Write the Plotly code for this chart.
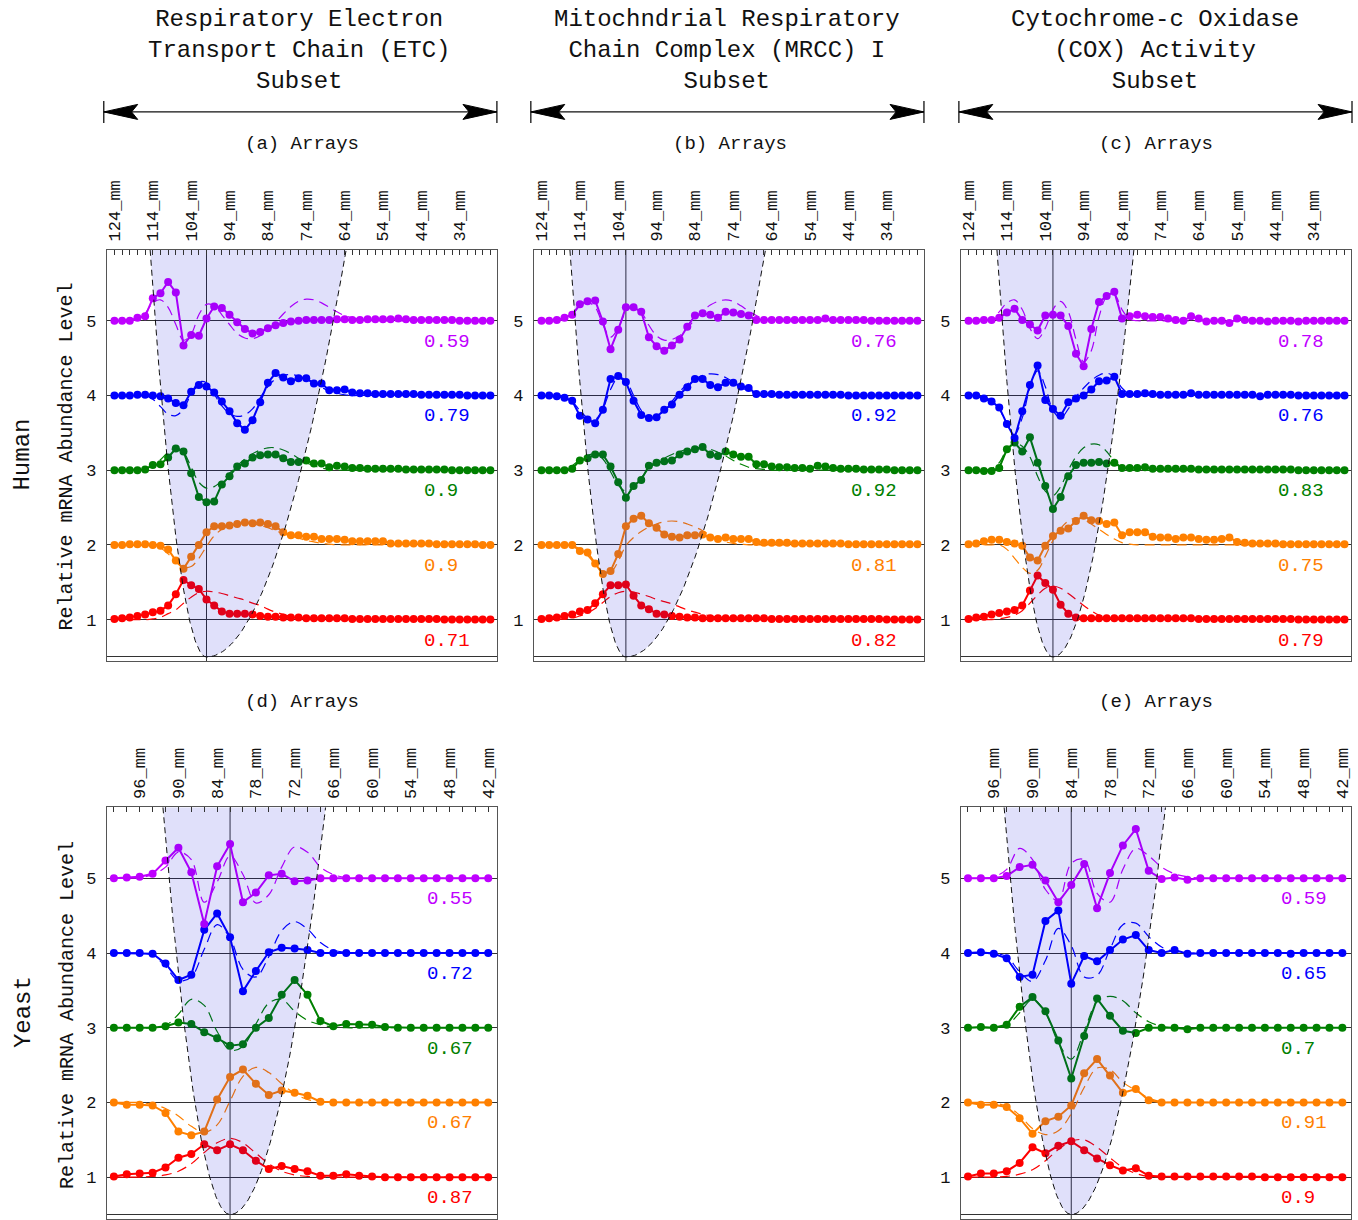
import numpy as np
import plotly.graph_objects as go

W, H = 1358, 1220
FONT = "Liberation Mono"

# ---------------- grids / ticks ----------------
HUMAN_MM = list(range(124, 24, -2))      # 50 arrays, 2 mm apart
YEAST_MM = list(range(100, 40, -2))      # 30 arrays, 2 mm apart
HUMAN_TICKS = [124, 114, 104, 94, 84, 74, 64, 54, 44, 34]
YEAST_TICKS = [96, 90, 84, 78, 72, 66, 60, 54, 48, 42]
SERIES = ["purple", "blue", "green", "orange", "red"]
COLORS = ["#BF00FF", "#0000FF", "#008000", "#FF8000", "#FF0000"]
BASELINES = [5, 4, 3, 2, 1]

# ---------------- panel (a) ----------------
A_PURPLE = [5.00, 5.00, 5.00, 5.04, 5.06, 5.30, 5.37, 5.52, 5.38, 4.67,
            4.81, 4.80, 5.03, 5.19, 5.17, 5.08, 4.98, 4.89, 4.83, 4.85,
            4.90, 4.94, 4.97, 4.99, 5.00, 5.01, 5.01, 5.01, 5.01, 5.02,
            5.02, 5.01, 5.01, 5.02, 5.02, 5.02, 5.02, 5.03, 5.02, 5.01,
            5.01, 5.01, 5.01, 5.01, 5.01, 5.00, 5.00, 5.00, 5.00, 5.00]
A_PURPLE_FIT = [5.00, 5.00, 5.00, 5.02, 5.10, 5.24, 5.28, 5.18, 4.95, 4.74,
                4.82, 5.08, 5.22, 5.20, 5.08, 4.95, 4.83, 4.77, 4.76, 4.80,
                4.88, 4.98, 5.09, 5.19, 5.26, 5.29, 5.28, 5.24, 5.18, 5.12,
                5.07, 5.04, 5.02, 5.01, 5.00, 5.00, 5.00, 5.00, 5.00, 5.00,
                5.00, 5.00, 5.00, 5.00, 5.00, 5.00, 5.00, 5.00, 5.00, 5.00]
A_BLUE = [4.00, 4.00, 4.00, 4.01, 4.01, 4.00, 3.99, 3.96, 3.90, 3.87,
          4.05, 4.14, 4.12, 4.04, 3.92, 3.79, 3.63, 3.54, 3.67, 3.91,
          4.17, 4.30, 4.24, 4.19, 4.23, 4.23, 4.16, 4.16, 4.07, 4.07,
          4.08, 4.04, 4.03, 4.03, 4.02, 4.02, 4.02, 4.02, 4.02, 4.02,
          4.01, 4.01, 4.01, 4.01, 4.01, 4.01, 4.00, 4.00, 4.00, 4.00]
A_BLUE_FIT = [4.00, 4.00, 4.00, 4.00, 4.00, 3.95, 3.85, 3.75, 3.73, 3.82,
              4.02, 4.18, 4.17, 4.02, 3.86, 3.76, 3.72, 3.74, 3.82, 3.97,
              4.12, 4.22, 4.27, 4.28, 4.26, 4.22, 4.17, 4.11, 4.06, 4.03,
              4.01, 4.00, 4.00, 4.00, 4.00, 4.00, 4.00, 4.00, 4.00, 4.00,
              4.00, 4.00, 4.00, 4.00, 4.00, 4.00, 4.00, 4.00, 4.00, 4.00]
A_GREEN = [3.00, 3.00, 3.00, 3.00, 3.01, 3.07, 3.08, 3.17, 3.29, 3.25,
           2.96, 2.64, 2.57, 2.58, 2.81, 2.92, 3.05, 3.09, 3.17, 3.20,
           3.21, 3.21, 3.16, 3.11, 3.11, 3.13, 3.09, 3.09, 3.04, 3.06,
           3.05, 3.03, 3.03, 3.02, 3.02, 3.02, 3.02, 3.02, 3.01, 3.01,
           3.01, 3.01, 3.01, 3.01, 3.00, 3.00, 3.00, 3.00, 3.00, 3.00]
A_GREEN_FIT = [3.00, 3.00, 3.00, 3.00, 3.02, 3.06, 3.14, 3.24, 3.30, 3.24,
               3.04, 2.84, 2.76, 2.78, 2.86, 2.96, 3.06, 3.15, 3.22, 3.27,
               3.30, 3.30, 3.27, 3.22, 3.16, 3.10, 3.06, 3.03, 3.01, 3.00,
               3.00, 3.00, 3.00, 3.00, 3.00, 3.00, 3.00, 3.00, 3.00, 3.00,
               3.00, 3.00, 3.00, 3.00, 3.00, 3.00, 3.00, 3.00, 3.00, 3.00]
A_ORANGE = [2.00, 2.00, 2.01, 2.01, 2.01, 2.00, 1.99, 1.94, 1.79, 1.68,
            1.84, 2.00, 2.17, 2.25, 2.25, 2.26, 2.28, 2.30, 2.29, 2.30,
            2.28, 2.25, 2.17, 2.13, 2.13, 2.11, 2.11, 2.08, 2.08, 2.08,
            2.07, 2.05, 2.05, 2.05, 2.05, 2.05, 2.02, 2.02, 2.02, 2.02,
            2.02, 2.02, 2.01, 2.01, 2.01, 2.01, 2.01, 2.01, 2.00, 2.00]
A_ORANGE_FIT = [2.00, 2.00, 2.00, 2.00, 2.00, 1.99, 1.96, 1.88, 1.77, 1.70,
                1.71, 1.82, 1.98, 2.12, 2.21, 2.26, 2.28, 2.29, 2.28, 2.26,
                2.23, 2.19, 2.15, 2.12, 2.09, 2.06, 2.04, 2.02, 2.01, 2.00,
                2.00, 2.00, 2.00, 2.00, 2.00, 2.00, 2.00, 2.00, 2.00, 2.00,
                2.00, 2.00, 2.00, 2.00, 2.00, 2.00, 2.00, 2.00, 2.00, 2.00]
A_RED = [1.01, 1.02, 1.03, 1.05, 1.07, 1.10, 1.12, 1.19, 1.34, 1.53,
         1.46, 1.41, 1.27, 1.19, 1.11, 1.08, 1.08, 1.08, 1.07, 1.05,
         1.04, 1.04, 1.03, 1.03, 1.03, 1.02, 1.02, 1.02, 1.02, 1.02,
         1.02, 1.01, 1.01, 1.01, 1.01, 1.01, 1.01, 1.01, 1.01, 1.01,
         1.01, 1.01, 1.01, 1.00, 1.00, 1.00, 1.00, 1.00, 1.00, 1.00]
A_RED_FIT = [1.00, 1.00, 1.00, 1.00, 1.00, 1.01, 1.03, 1.08, 1.13, 1.22,
             1.30, 1.36, 1.38, 1.37, 1.35, 1.32, 1.29, 1.26, 1.22, 1.19,
             1.14, 1.10, 1.07, 1.04, 1.02, 1.01, 1.00, 1.00, 1.00, 1.00,
             1.00, 1.00, 1.00, 1.00, 1.00, 1.00, 1.00, 1.00, 1.00, 1.00,
             1.00, 1.00, 1.00, 1.00, 1.00, 1.00, 1.00, 1.00, 1.00, 1.00]
A_CORR = ["0.59", "0.79", "0.9", "0.9", "0.71"]

# ---------------- panel (b) ----------------
B_PURPLE = [5.00, 5.00, 5.01, 5.04, 5.08, 5.22, 5.26, 5.27, 4.99, 4.62,
            4.88, 5.18, 5.18, 5.12, 4.78, 4.66, 4.60, 4.67, 4.75, 4.92,
            5.07, 5.10, 5.08, 5.04, 5.12, 5.11, 5.09, 5.07, 5.01, 5.01,
            5.01, 5.01, 5.01, 5.01, 5.01, 5.01, 5.01, 5.03, 5.01, 5.01,
            5.01, 5.01, 5.01, 5.00, 5.00, 5.00, 5.00, 5.00, 5.00, 5.00]
B_PURPLE_FIT = [5.00, 5.00, 5.00, 5.02, 5.08, 5.20, 5.25, 5.18, 4.95, 4.78,
                4.90, 5.12, 5.20, 5.12, 4.94, 4.80, 4.74, 4.75, 4.80, 4.90,
                5.02, 5.13, 5.21, 5.26, 5.28, 5.26, 5.20, 5.13, 5.07, 5.03,
                5.01, 5.00, 5.00, 5.00, 5.00, 5.00, 5.00, 5.00, 5.00, 5.00,
                5.00, 5.00, 5.00, 5.00, 5.00, 5.00, 5.00, 5.00, 5.00, 5.00]
B_BLUE = [4.00, 4.00, 3.99, 3.97, 3.93, 3.73, 3.68, 3.63, 3.81, 4.22,
          4.26, 4.18, 3.93, 3.74, 3.70, 3.71, 3.81, 3.88, 4.01, 4.11,
          4.22, 4.22, 4.14, 4.11, 4.17, 4.17, 4.12, 4.10, 4.02, 4.02,
          4.02, 4.01, 4.01, 4.01, 4.01, 4.01, 4.01, 4.01, 4.01, 4.01,
          4.00, 4.00, 4.00, 4.00, 4.00, 4.00, 4.00, 4.00, 4.00, 4.00]
B_BLUE_FIT = [4.00, 4.00, 4.00, 3.98, 3.92, 3.80, 3.70, 3.68, 3.82, 4.08,
              4.24, 4.20, 4.00, 3.80, 3.71, 3.72, 3.80, 3.92, 4.05, 4.15,
              4.22, 4.27, 4.29, 4.28, 4.24, 4.18, 4.11, 4.06, 4.02, 4.01,
              4.00, 4.00, 4.00, 4.00, 4.00, 4.00, 4.00, 4.00, 4.00, 4.00,
              4.00, 4.00, 4.00, 4.00, 4.00, 4.00, 4.00, 4.00, 4.00, 4.00]
B_GREEN = [3.00, 3.00, 3.00, 3.00, 3.02, 3.13, 3.16, 3.21, 3.21, 3.05,
           2.84, 2.63, 2.79, 2.87, 3.06, 3.10, 3.12, 3.13, 3.21, 3.25,
           3.28, 3.31, 3.21, 3.19, 3.25, 3.21, 3.18, 3.18, 3.08, 3.08,
           3.05, 3.04, 3.04, 3.03, 3.03, 3.02, 3.06, 3.05, 3.03, 3.02,
           3.02, 3.02, 3.01, 3.01, 3.01, 3.01, 3.00, 3.00, 3.00, 3.00]
B_GREEN_FIT = [3.00, 3.00, 3.00, 3.01, 3.06, 3.14, 3.20, 3.22, 3.15, 2.98,
               2.80, 2.72, 2.78, 2.90, 3.02, 3.10, 3.16, 3.21, 3.25, 3.28,
               3.30, 3.30, 3.28, 3.24, 3.19, 3.13, 3.08, 3.04, 3.02, 3.01,
               3.00, 3.00, 3.00, 3.00, 3.00, 3.00, 3.00, 3.00, 3.00, 3.00,
               3.00, 3.00, 3.00, 3.00, 3.00, 3.00, 3.00, 3.00, 3.00, 3.00]
B_ORANGE = [2.00, 2.00, 2.00, 2.00, 2.00, 1.92, 1.90, 1.75, 1.61, 1.65,
            1.88, 2.25, 2.35, 2.39, 2.29, 2.23, 2.14, 2.11, 2.10, 2.13,
            2.13, 2.14, 2.10, 2.08, 2.10, 2.08, 2.08, 2.08, 2.04, 2.03,
            2.03, 2.03, 2.03, 2.02, 2.02, 2.02, 2.02, 2.02, 2.02, 2.02,
            2.01, 2.01, 2.01, 2.01, 2.01, 2.01, 2.01, 2.01, 2.01, 2.01]
B_ORANGE_FIT = [2.00, 2.00, 2.00, 2.00, 1.99, 1.95, 1.86, 1.74, 1.64, 1.63,
                1.78, 1.99, 2.10, 2.18, 2.24, 2.28, 2.31, 2.32, 2.31, 2.28,
                2.24, 2.19, 2.13, 2.08, 2.04, 2.02, 2.01, 2.00, 2.00, 2.00,
                2.00, 2.00, 2.00, 2.00, 2.00, 2.00, 2.00, 2.00, 2.00, 2.00,
                2.00, 2.00, 2.00, 2.00, 2.00, 2.00, 2.00, 2.00, 2.00, 2.00]
B_RED = [1.01, 1.02, 1.03, 1.05, 1.07, 1.11, 1.13, 1.22, 1.34, 1.46,
         1.46, 1.47, 1.32, 1.19, 1.14, 1.08, 1.07, 1.05, 1.04, 1.03,
         1.03, 1.02, 1.02, 1.02, 1.02, 1.02, 1.02, 1.02, 1.02, 1.02,
         1.01, 1.01, 1.01, 1.01, 1.01, 1.01, 1.01, 1.01, 1.01, 1.01,
         1.01, 1.01, 1.01, 1.01, 1.01, 1.00, 1.00, 1.00, 1.00, 1.00]
B_RED_FIT = [1.00, 1.00, 1.00, 1.01, 1.02, 1.05, 1.09, 1.15, 1.23, 1.31,
             1.36, 1.38, 1.37, 1.34, 1.31, 1.27, 1.24, 1.21, 1.17, 1.13,
             1.10, 1.07, 1.05, 1.03, 1.01, 1.00, 1.00, 1.00, 1.00, 1.00,
             1.00, 1.00, 1.00, 1.00, 1.00, 1.00, 1.00, 1.00, 1.00, 1.00,
             1.00, 1.00, 1.00, 1.00, 1.00, 1.00, 1.00, 1.00, 1.00, 1.00]
B_CORR = ["0.76", "0.92", "0.92", "0.81", "0.82"]

# ---------------- panel (c) ----------------
C_PURPLE = [5.00, 5.00, 5.01, 5.01, 5.04, 5.11, 5.16, 5.01, 4.95, 4.87,
            5.07, 5.08, 5.07, 4.93, 4.56, 4.39, 4.89, 5.25, 5.33, 5.39,
            5.03, 5.06, 5.08, 5.06, 5.05, 5.05, 5.03, 5.01, 5.00, 5.06,
            5.03, 4.99, 5.00, 5.00, 4.97, 5.03, 5.01, 5.00, 5.00, 4.99,
            5.00, 5.00, 5.00, 4.99, 5.00, 5.00, 5.00, 5.00, 5.00, 5.00]
C_PURPLE_FIT = [5.00, 5.00, 5.00, 5.03, 5.12, 5.24, 5.28, 5.15, 4.90, 4.76,
                4.90, 5.15, 5.26, 5.12, 4.75, 4.45, 4.60, 5.05, 5.32, 5.35,
                5.15, 5.02, 5.00, 5.00, 5.00, 5.00, 5.00, 5.00, 5.00, 5.00,
                5.00, 5.00, 5.00, 5.00, 5.00, 5.00, 5.00, 5.00, 5.00, 5.00,
                5.00, 5.00, 5.00, 5.00, 5.00, 5.00, 5.00, 5.00, 5.00, 5.00]
C_BLUE = [4.00, 4.00, 3.96, 3.92, 3.84, 3.62, 3.43, 3.79, 4.14, 4.40,
          3.94, 3.82, 3.73, 3.91, 3.96, 4.00, 4.08, 4.19, 4.20, 4.25,
          4.02, 4.02, 4.02, 4.03, 4.02, 4.01, 4.01, 4.01, 4.01, 4.03,
          4.01, 4.01, 4.01, 4.01, 4.01, 4.01, 4.01, 4.01, 3.99, 4.01,
          4.01, 4.01, 4.01, 4.00, 4.00, 4.00, 4.00, 4.00, 4.00, 4.00]
C_BLUE_FIT = [4.00, 4.00, 3.98, 3.93, 3.82, 3.62, 3.48, 3.70, 4.10, 4.33,
              4.12, 3.80, 3.70, 3.82, 3.98, 4.10, 4.20, 4.27, 4.30, 4.25,
              4.10, 4.02, 4.00, 4.00, 4.00, 4.00, 4.00, 4.00, 4.00, 4.00,
              4.00, 4.00, 4.00, 4.00, 4.00, 4.00, 4.00, 4.00, 4.00, 4.00,
              4.00, 4.00, 4.00, 4.00, 4.00, 4.00, 4.00, 4.00, 4.00, 4.00]
C_GREEN = [3.00, 3.00, 2.99, 2.99, 3.03, 3.28, 3.37, 3.25, 3.44, 3.10,
           2.79, 2.48, 2.64, 2.92, 3.07, 3.10, 3.10, 3.11, 3.09, 3.10,
           3.03, 3.03, 3.03, 3.04, 3.02, 3.02, 3.02, 3.02, 3.02, 3.02,
           3.01, 3.01, 3.01, 3.01, 3.01, 3.01, 3.01, 3.01, 3.01, 3.01,
           3.01, 3.01, 3.01, 3.00, 3.00, 3.00, 3.00, 3.00, 3.00, 3.00]
C_GREEN_FIT = [3.00, 3.00, 3.00, 3.02, 3.10, 3.28, 3.36, 3.32, 3.18, 2.92,
               2.72, 2.66, 2.78, 3.00, 3.18, 3.30, 3.35, 3.34, 3.25, 3.12,
               3.04, 3.01, 3.00, 3.00, 3.00, 3.00, 3.00, 3.00, 3.00, 3.00,
               3.00, 3.00, 3.00, 3.00, 3.00, 3.00, 3.00, 3.00, 3.00, 3.00,
               3.00, 3.00, 3.00, 3.00, 3.00, 3.00, 3.00, 3.00, 3.00, 3.00]
C_ORANGE = [2.01, 2.02, 2.05, 2.07, 2.07, 2.04, 2.02, 1.99, 1.83, 1.79,
            1.99, 2.12, 2.19, 2.22, 2.32, 2.39, 2.33, 2.32, 2.28, 2.30,
            2.13, 2.17, 2.17, 2.17, 2.11, 2.10, 2.10, 2.08, 2.10, 2.10,
            2.08, 2.07, 2.07, 2.08, 2.10, 2.04, 2.03, 2.02, 2.02, 2.02,
            2.02, 2.01, 2.01, 2.01, 2.01, 2.01, 2.01, 2.01, 2.01, 2.01]
C_ORANGE_FIT = [2.00, 2.00, 2.00, 2.00, 2.00, 1.94, 1.82, 1.70, 1.62, 1.66,
                1.85, 2.06, 2.22, 2.32, 2.36, 2.34, 2.28, 2.21, 2.14, 2.08,
                2.03, 2.01, 2.00, 2.00, 2.00, 2.00, 2.00, 2.00, 2.00, 2.00,
                2.00, 2.00, 2.00, 2.00, 2.00, 2.00, 2.00, 2.00, 2.00, 2.00,
                2.00, 2.00, 2.00, 2.00, 2.00, 2.00, 2.00, 2.00, 2.00, 2.00]
C_RED = [1.01, 1.03, 1.04, 1.07, 1.09, 1.11, 1.13, 1.19, 1.39, 1.59,
         1.49, 1.40, 1.20, 1.08, 1.03, 1.02, 1.02, 1.02, 1.02, 1.02,
         1.02, 1.02, 1.02, 1.02, 1.02, 1.02, 1.02, 1.02, 1.02, 1.02,
         1.01, 1.01, 1.01, 1.01, 1.01, 1.01, 1.01, 1.01, 1.01, 1.01,
         1.01, 1.01, 1.01, 1.00, 1.00, 1.00, 1.00, 1.00, 1.00, 1.00]
C_RED_FIT = [1.00, 1.00, 1.00, 1.00, 1.01, 1.03, 1.06, 1.12, 1.22, 1.33,
             1.42, 1.45, 1.42, 1.35, 1.27, 1.19, 1.12, 1.06, 1.03, 1.01,
             1.00, 1.00, 1.00, 1.00, 1.00, 1.00, 1.00, 1.00, 1.00, 1.00,
             1.00, 1.00, 1.00, 1.00, 1.00, 1.00, 1.00, 1.00, 1.00, 1.00,
             1.00, 1.00, 1.00, 1.00, 1.00, 1.00, 1.00, 1.00, 1.00, 1.00]
C_CORR = ["0.78", "0.76", "0.83", "0.75", "0.79"]

# ---------------- panel (d) ----------------
D_PURPLE = [5.00, 5.01, 5.02, 5.06, 5.24, 5.41, 5.08, 4.39, 5.16, 5.46,
            4.68, 4.81, 5.04, 5.06, 4.96, 4.97, 5.00, 5.00, 5.00, 5.00,
            5.00, 5.00, 5.00, 5.00, 5.00, 5.00, 5.00, 5.00, 5.00, 5.00]
D_PURPLE_FIT = [5.00, 5.00, 5.01, 5.05, 5.15, 5.35, 5.25, 4.68, 4.95, 5.30,
                5.05, 4.67, 4.78, 5.15, 5.42, 5.35, 5.15, 5.05, 5.01, 5.00,
                5.00, 5.00, 5.00, 5.00, 5.00, 5.00, 5.00, 5.00, 5.00, 5.00]
D_BLUE = [4.00, 4.00, 4.00, 3.99, 3.86, 3.64, 3.71, 4.31, 4.53, 4.21,
          3.49, 3.76, 4.01, 4.07, 4.06, 4.04, 4.00, 4.00, 4.00, 4.00,
          4.00, 4.00, 4.00, 4.00, 4.00, 4.00, 4.00, 4.00, 4.00, 4.00]
D_BLUE_FIT = [4.00, 4.00, 4.00, 3.97, 3.82, 3.63, 3.68, 4.05, 4.38, 4.20,
              3.78, 3.68, 3.95, 4.30, 4.42, 4.32, 4.14, 4.04, 4.01, 4.00,
              4.00, 4.00, 4.00, 4.00, 4.00, 4.00, 4.00, 4.00, 4.00, 4.00]
D_GREEN = [3.00, 3.00, 3.00, 3.00, 3.02, 3.07, 3.05, 2.94, 2.86, 2.76,
           2.78, 3.00, 3.13, 3.44, 3.64, 3.44, 3.09, 3.02, 3.05, 3.04,
           3.04, 3.01, 3.00, 3.00, 3.00, 3.00, 3.00, 3.00, 3.00, 3.00]
D_GREEN_FIT = [3.00, 3.00, 3.00, 3.00, 3.03, 3.18, 3.38, 3.30, 2.95, 2.70,
               2.75, 3.05, 3.33, 3.38, 3.22, 3.10, 3.04, 3.01, 3.00, 3.00,
               3.00, 3.00, 3.00, 3.00, 3.00, 3.00, 3.00, 3.00, 3.00, 3.00]
D_ORANGE = [2.00, 1.97, 1.97, 1.96, 1.86, 1.61, 1.56, 1.61, 2.04, 2.34,
            2.44, 2.25, 2.10, 2.16, 2.13, 2.09, 2.01, 2.00, 2.00, 2.00,
            2.00, 2.00, 2.00, 2.00, 2.00, 2.00, 2.00, 2.00, 2.00, 2.00]
D_ORANGE_FIT = [2.00, 2.00, 2.00, 1.97, 1.92, 1.82, 1.68, 1.60, 1.70, 2.02,
                2.35, 2.47, 2.40, 2.25, 2.12, 2.04, 2.01, 2.00, 2.00, 2.00,
                2.00, 2.00, 2.00, 2.00, 2.00, 2.00, 2.00, 2.00, 2.00, 2.00]
D_RED = [1.01, 1.04, 1.05, 1.06, 1.13, 1.26, 1.31, 1.44, 1.36, 1.44,
         1.36, 1.22, 1.11, 1.15, 1.11, 1.08, 1.02, 1.02, 1.04, 1.02,
         1.01, 1.00, 1.00, 1.00, 1.00, 1.00, 1.00, 1.00, 1.00, 1.00]
D_RED_FIT = [1.00, 1.00, 1.00, 1.01, 1.03, 1.08, 1.18, 1.33, 1.46, 1.52,
             1.46, 1.32, 1.18, 1.08, 1.03, 1.01, 1.00, 1.00, 1.00, 1.00,
             1.00, 1.00, 1.00, 1.00, 1.00, 1.00, 1.00, 1.00, 1.00, 1.00]
D_CORR = ["0.55", "0.72", "0.67", "0.67", "0.87"]

# ---------------- panel (e) ----------------
E_PURPLE = [5.00, 5.00, 5.00, 5.03, 5.15, 5.18, 4.97, 4.68, 4.91, 5.19,
            4.60, 5.07, 5.44, 5.66, 5.10, 4.99, 5.01, 4.98, 5.00, 5.00,
            5.00, 5.00, 5.00, 5.00, 5.00, 5.00, 5.00, 5.00, 5.00, 5.00]
E_PURPLE_FIT = [5.00, 5.00, 5.02, 5.12, 5.40, 5.25, 4.85, 4.70, 5.20, 5.25,
                4.80, 4.68, 5.12, 5.40, 5.30, 5.15, 5.06, 5.02, 5.00, 5.00,
                5.00, 5.00, 5.00, 5.00, 5.00, 5.00, 5.00, 5.00, 5.00, 5.00]
E_BLUE = [4.00, 4.01, 3.99, 3.93, 3.68, 3.71, 4.43, 4.57, 3.59, 3.96,
          3.89, 4.04, 4.18, 4.24, 4.04, 4.00, 4.04, 3.99, 4.00, 4.00,
          4.00, 4.00, 4.00, 4.00, 4.00, 3.99, 4.00, 4.00, 4.00, 4.00]
E_BLUE_FIT = [4.00, 4.00, 4.00, 3.95, 3.75, 3.62, 3.90, 4.33, 4.10, 3.68,
              3.70, 4.05, 4.38, 4.40, 4.22, 4.08, 4.02, 4.00, 4.00, 4.00,
              4.00, 4.00, 4.00, 4.00, 4.00, 4.00, 4.00, 4.00, 4.00, 4.00]
E_GREEN = [3.00, 3.01, 3.00, 3.04, 3.28, 3.41, 3.22, 2.83, 2.32, 2.89,
           3.39, 3.16, 2.96, 2.93, 3.00, 3.00, 3.00, 2.98, 3.00, 3.00,
           3.00, 3.00, 3.00, 3.00, 3.00, 3.00, 3.00, 3.00, 3.00, 3.00]
E_GREEN_FIT = [3.00, 3.00, 3.00, 3.03, 3.20, 3.38, 3.20, 2.80, 2.58, 2.95,
               3.35, 3.42, 3.36, 3.20, 3.08, 3.02, 3.00, 3.00, 3.00, 3.00,
               3.00, 3.00, 3.00, 3.00, 3.00, 3.00, 3.00, 3.00, 3.00, 3.00]
E_ORANGE = [2.00, 1.97, 1.97, 1.94, 1.79, 1.58, 1.75, 1.81, 1.96, 2.39,
            2.58, 2.36, 2.13, 2.18, 2.03, 2.00, 2.00, 2.00, 2.00, 2.00,
            2.00, 2.00, 2.00, 2.00, 2.00, 2.00, 2.00, 2.00, 2.00, 2.00]
E_ORANGE_FIT = [2.00, 2.00, 1.99, 1.95, 1.83, 1.65, 1.57, 1.62, 1.85, 2.20,
                2.46, 2.44, 2.27, 2.16, 2.06, 2.01, 2.00, 2.00, 2.00, 2.00,
                2.00, 2.00, 2.00, 2.00, 2.00, 2.00, 2.00, 2.00, 2.00, 2.00]
E_RED = [1.01, 1.05, 1.05, 1.08, 1.19, 1.40, 1.32, 1.42, 1.48, 1.36,
         1.25, 1.16, 1.09, 1.12, 1.02, 1.01, 1.01, 1.01, 1.01, 1.01,
         1.01, 1.01, 1.01, 1.00, 1.00, 1.00, 1.00, 1.00, 1.00, 1.00]
E_RED_FIT = [1.00, 1.00, 1.00, 1.01, 1.04, 1.10, 1.22, 1.37, 1.48, 1.50,
             1.40, 1.26, 1.13, 1.05, 1.01, 1.00, 1.00, 1.00, 1.00, 1.00,
             1.00, 1.00, 1.00, 1.00, 1.00, 1.00, 1.00, 1.00, 1.00, 1.00]
E_CORR = ["0.59", "0.65", "0.7", "0.91", "0.9"]

# ---------------- shaded window (parabola) parameters ----------------
VERTEX_MM = [100, 102, 102, 82, 84]
HALF_LEFT_MM = [14.7, 14.6, 14.6, 10.4, 10.4]
HALF_RIGHT_MM = [36.4, 36.4, 21.1, 14.8, 14.6]
Y_RANGE = [0.44, 5.95]
VERTEX_Y = 0.5

# ---------------- layout of panels (pixels) ----------------
PANEL_BOX = [(106, 250, 497, 662), (534, 250, 925, 662), (962, 250, 1353, 662),
             (106, 808, 497, 1220), (962, 808, 1353, 1220)]
X_RANGES = [[126.0, 24.3], [126.0, 24.3], [126.0, 24.3], [101.1, 40.66], [101.1, 40.66]]
CORR_X = [43.8, 43.8, 43.8, 51.8, 51.8]

PANELS = [
    (HUMAN_MM, HUMAN_TICKS, [A_PURPLE, A_BLUE, A_GREEN, A_ORANGE, A_RED],
     [A_PURPLE_FIT, A_BLUE_FIT, A_GREEN_FIT, A_ORANGE_FIT, A_RED_FIT], A_CORR),
    (HUMAN_MM, HUMAN_TICKS, [B_PURPLE, B_BLUE, B_GREEN, B_ORANGE, B_RED],
     [B_PURPLE_FIT, B_BLUE_FIT, B_GREEN_FIT, B_ORANGE_FIT, B_RED_FIT], B_CORR),
    (HUMAN_MM, HUMAN_TICKS, [C_PURPLE, C_BLUE, C_GREEN, C_ORANGE, C_RED],
     [C_PURPLE_FIT, C_BLUE_FIT, C_GREEN_FIT, C_ORANGE_FIT, C_RED_FIT], C_CORR),
    (YEAST_MM, YEAST_TICKS, [D_PURPLE, D_BLUE, D_GREEN, D_ORANGE, D_RED],
     [D_PURPLE_FIT, D_BLUE_FIT, D_GREEN_FIT, D_ORANGE_FIT, D_RED_FIT], D_CORR),
    (YEAST_MM, YEAST_TICKS, [E_PURPLE, E_BLUE, E_GREEN, E_ORANGE, E_RED],
     [E_PURPLE_FIT, E_BLUE_FIT, E_GREEN_FIT, E_ORANGE_FIT, E_RED_FIT], E_CORR),
]

for mm, _, ds, fs, _ in PANELS:
    for arr in ds + fs:
        assert len(arr) == len(mm), (len(arr), len(mm))


def px(x):
    return x / W


def py(y):
    return 1 - y / H


fig = go.Figure()
annotations = []
shapes = []
layout = {}

for k, (mm, ticks, datas, fits, corr) in enumerate(PANELS):
    n = k + 1
    xr = "x" if n == 1 else f"x{n}"
    yr = "y" if n == 1 else f"y{n}"
    xkey = "xaxis" if n == 1 else f"xaxis{n}"
    ykey = "yaxis" if n == 1 else f"yaxis{n}"
    x0, y0, x1, y1 = PANEL_BOX[k]

    layout[xkey] = dict(
        domain=[px(x0), px(x1)], range=X_RANGES[k], anchor=yr, side="top",
        tickmode="array", tickvals=mm,
        ticktext=[f"{v}_mm" if v in ticks else "" for v in mm],
        tickangle=-90, ticks="inside", ticklen=5, tickwidth=1, tickcolor="#333",
        tickfont=dict(family=FONT, size=17, color="#111"), ticklabelstandoff=4,
        showline=True, linecolor="#555", linewidth=1, mirror=True,
        showgrid=False, zeroline=False, fixedrange=True,
    )
    layout[ykey] = dict(
        domain=[py(y1), py(y0)], range=Y_RANGE, anchor=xr,
        tickmode="array", tickvals=[VERTEX_Y, 1, 2, 3, 4, 5],
        ticktext=["", "1", "2", "3", "4", "5"],
        ticks="", tickfont=dict(family=FONT, size=17, color="#111"),
        ticklabelstandoff=6,
        showgrid=True, gridcolor="#333", gridwidth=1,
        showline=True, linecolor="#555", linewidth=1, mirror=True,
        zeroline=False, fixedrange=True,
    )

    # vertical line at the window centre
    shapes.append(dict(type="line", xref=xr, yref=f"{yr} domain",
                       x0=VERTEX_MM[k], x1=VERTEX_MM[k], y0=0, y1=1,
                       line=dict(color="#333", width=1), layer="below"))

    # fits and data, red first so purple ends on top
    for s in range(4, -1, -1):
        fig.add_trace(go.Scatter(
            x=mm, y=fits[s], xaxis=xr, yaxis=yr, mode="lines",
            line=dict(color=COLORS[s], width=1.2, dash="10px,6px", shape="spline"),
            showlegend=False, hoverinfo="skip"))
        fig.add_trace(go.Scatter(
            x=mm, y=datas[s], xaxis=xr, yaxis=yr, mode="lines+markers",
            line=dict(color=COLORS[s], width=2),
            marker=dict(color=COLORS[s], size=8),
            showlegend=False, hoverinfo="skip"))
        annotations.append(dict(
            xref=xr, yref=yr, x=CORR_X[k], y=BASELINES[s] - 0.28,
            text=corr[s], showarrow=False, xanchor="left", yanchor="middle",
            font=dict(family=FONT, size=19, color=COLORS[s])))

    # translucent parabolic window drawn over the data
    t = np.linspace(0, 1, 80)
    yy = VERTEX_Y + (Y_RANGE[1] - VERTEX_Y) * t ** 2
    xl = VERTEX_MM[k] + HALF_LEFT_MM[k] * t
    xrr = VERTEX_MM[k] - HALF_RIGHT_MM[k] * t
    px_poly = np.concatenate([xl[::-1], xrr])
    py_poly = np.concatenate([yy[::-1], yy])
    fig.add_trace(go.Scatter(
        x=px_poly, y=py_poly, xaxis=xr, yaxis=yr, mode="lines", fill="toself",
        fillcolor="rgba(0,0,210,0.12)", line=dict(width=0),
        showlegend=False, hoverinfo="skip"))
    fig.add_trace(go.Scatter(
        x=px_poly, y=py_poly, xaxis=xr, yaxis=yr, mode="lines",
        line=dict(color="#111", width=1, dash="6px,4px"),
        showlegend=False, hoverinfo="skip"))

# ---------------- headers ----------------
HEADERS = ["Respiratory Electron<br>Transport Chain (ETC)<br>Subset",
           "Mitochndrial Respiratory<br>Chain Complex (MRCC) I<br>Subset",
           "Cytochrome-c Oxidase<br>(COX) Activity<br>Subset"]
HEADER_X = [299, 728, 1157]
ARROW_SPANS = [(103, 497), (531, 925), (960, 1354)]
for hx, text in zip(HEADER_X, HEADERS):
    annotations.append(dict(xref="paper", yref="paper", x=px(hx), y=py(51),
                            text=text, showarrow=False, xanchor="center",
                            yanchor="middle",
                            font=dict(family=FONT, size=24, color="#111")))

AY = 112
for ax0, ax1 in ARROW_SPANS:
    shapes.append(dict(type="line", xref="paper", yref="paper",
                       x0=px(ax0), x1=px(ax1), y0=py(AY), y1=py(AY),
                       line=dict(color="#111", width=1.3)))
    for xe in (ax0, ax1):
        shapes.append(dict(type="line", xref="paper", yref="paper",
                           x0=px(xe), x1=px(xe), y0=py(AY - 11), y1=py(AY + 11),
                           line=dict(color="#111", width=1.3)))
    L, h = 34, 7.5
    for tip, sgn in ((ax0, 1), (ax1, -1)):
        path = (f"M {px(tip)},{py(AY)} L {px(tip + sgn * L)},{py(AY - h)} "
                f"L {px(tip + sgn * L * 0.82)},{py(AY)} "
                f"L {px(tip + sgn * L)},{py(AY + h)} Z")
        shapes.append(dict(type="path", xref="paper", yref="paper", path=path,
                           fillcolor="#000", line=dict(color="#000", width=1)))

SUBTITLES = [("(a) Arrays", 302, 144), ("(b) Arrays", 731, 144),
             ("(c) Arrays", 1158, 144), ("(d) Arrays", 302, 703),
             ("(e) Arrays", 1158, 703)]
for text, sx, sy in SUBTITLES:
    annotations.append(dict(xref="paper", yref="paper", x=px(sx), y=py(sy),
                            text=text, showarrow=False, xanchor="center",
                            yanchor="middle",
                            font=dict(family=FONT, size=19, color="#111")))

for text, ry in (("Human", 455), ("Yeast", 1013)):
    annotations.append(dict(xref="paper", yref="paper", x=px(22), y=py(ry),
                            text=text, showarrow=False, textangle=-90,
                            xanchor="center", yanchor="middle",
                            font=dict(family=FONT, size=24, color="#111")))
for ry in (457, 1016):
    annotations.append(dict(xref="paper", yref="paper", x=px(66), y=py(ry),
                            text="Relative mRNA Abundance Level", showarrow=False,
                            textangle=-90, xanchor="center", yanchor="middle",
                            font=dict(family=FONT, size=20, color="#111")))

fig.update_layout(
    width=W, height=H, autosize=False,
    margin=dict(l=0, r=0, t=0, b=0),
    paper_bgcolor="white", plot_bgcolor="white",
    showlegend=False, annotations=annotations, shapes=shapes,
    **layout,
)

fig.write_html("out.html",
               config={"displayModeBar": False},
               post_script="document.body.style.margin='0';"
                           "document.body.style.overflow='hidden';")
